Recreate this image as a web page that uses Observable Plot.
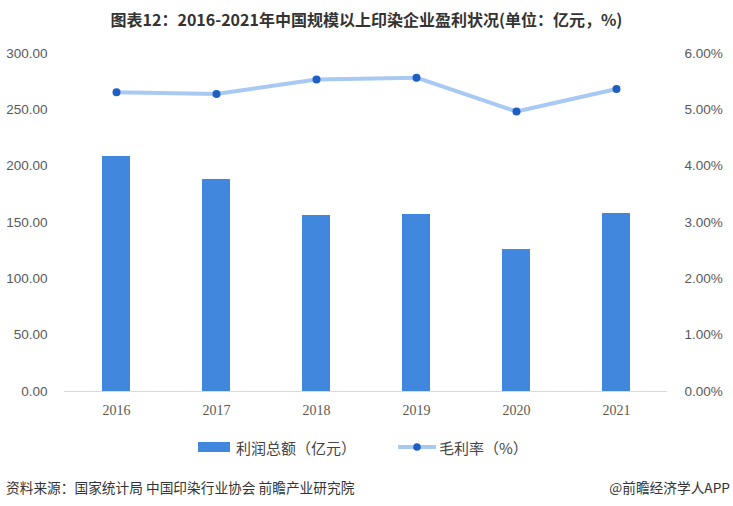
<!DOCTYPE html>
<html><head><meta charset="utf-8">
<script src="https://cdn.jsdelivr.net/npm/d3@7"></script>
<script src="https://cdn.jsdelivr.net/npm/@observablehq/plot@0.6"></script>
<style>
body{margin:0;width:733px;height:506px;background:#fff;font-family:"Noto Sans CJK SC","Noto Sans",sans-serif;position:relative;overflow:hidden}
#title{position:absolute;left:0;top:7px;width:733px;text-align:center;font-weight:bold;font-size:16px;color:#333}
#chart{position:absolute;left:0;top:40px}
#legend{position:absolute;top:437px;left:0;width:733px;font-size:15px;color:#444}
.li{position:absolute;display:flex;align-items:center;height:20px}
#foot{position:absolute;top:477px;left:6px;font-size:13.7px;color:#333}
#foot2{position:absolute;top:477px;right:3px;font-size:13.7px;color:#333}
</style></head><body>
<div id="title">图表12：2016-2021年中国规模以上印染企业盈利状况(单位：亿元，%)</div>
<div id="chart"></div>
<div id="legend">
  <div class="li" style="left:198px"><span style="display:inline-block;width:32px;height:10px;background:#4287de;margin-right:6px"></span>利润总额（亿元）</div>
  <div class="li" style="left:398px"><svg width="38" height="12" style="margin-right:3px"><line x1="1" y1="6" x2="37" y2="6" stroke="#a8c9f4" stroke-width="4" stroke-linecap="round"/><circle cx="19" cy="6" r="3.8" fill="#1d5fc2"/></svg>毛利率（%）</div>
</div>
<div id="foot">资料来源：国家统计局 中国印染行业协会 前瞻产业研究院</div>
<div id="foot2">@前瞻经济学人APP</div>
<script>
const years = ["2016","2017","2018","2019","2020","2021"];
const profit = [208.6, 188.2, 156.2, 157.1, 126.0, 158.0];
const margin = [5.31, 5.28, 5.54, 5.57, 4.97, 5.37];
const leftTicks = [0,50,100,150,200,250,300];

const ratio = 300/6; // right axis 6% aligns with left 300
const data = years.map((y,i)=>({year:y, profit:profit[i], margin:margin[i], m:margin[i]*ratio}));

const chart = Plot.plot({
  width:733, height:385,
  marginTop:13, marginBottom:34, marginLeft:64, marginRight:66,
  style:{fontFamily:"'Liberation Serif','DejaVu Serif',serif", fontSize:"14px", color:"#595959"},
  x:{domain:years, paddingInner:0.72, paddingOuter:0.36, label:null},
  y:{domain:[0,300], label:null},
  marks:[
    Plot.axisY(leftTicks,{anchor:"left", tickSize:0, tickPadding:17, tickFormat:d=>d.toFixed(2), label:null, fontFamily:"'Liberation Sans','DejaVu Sans',sans-serif", fontSize:13.5}),
    Plot.axisY(leftTicks,{anchor:"right", tickSize:0, tickPadding:17, textAnchor:"start", tickFormat:d=>(d/ratio).toFixed(2)+"%", label:null, fontFamily:"'Liberation Sans','DejaVu Sans',sans-serif", fontSize:13.5}),
    Plot.axisX({tickSize:0, tickPadding:14, label:null, fontSize:14}),
    Plot.barY(data,{x:"year", y:"profit", fill:"#4287de"}),
    Plot.ruleY([0],{stroke:"#d9d9d9", strokeWidth:1}),
    Plot.line(data,{x:"year", y:"m", stroke:"#a8c9f4", strokeWidth:4, strokeLinecap:"round"}),
    Plot.dot(data,{x:"year", y:"m", r:4, fill:"#1d5fc2"})
  ]
});
document.getElementById("chart").appendChild(chart);
</script>
</body></html>
